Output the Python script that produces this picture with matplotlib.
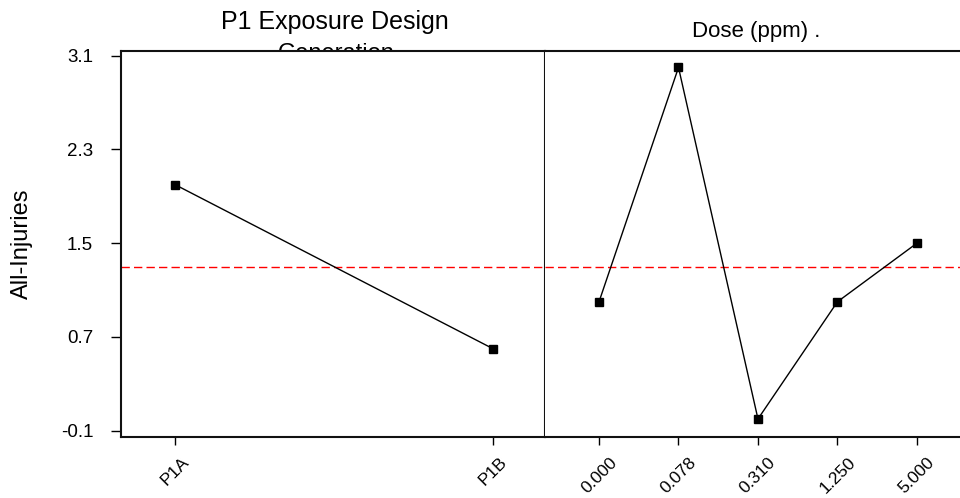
import matplotlib
matplotlib.use('Agg')
import matplotlib.pyplot as plt
from matplotlib.patches import Rectangle

plt.rcParams['font.family'] = ['Liberation Sans', 'DejaVu Sans']

# Main effects means for All-Injuries
design_levels = ['P1A', 'P1B']
design_means = [2.0, 0.6]

dose_levels = ['0.000', '0.078', '0.310', '1.250', '5.000']
dose_means = [1.0, 3.0, 0.0, 1.0, 1.5]

grand_mean = 1.3
y_ticks = [-0.1, 0.7, 1.5, 2.3, 3.1]

fig = plt.figure(figsize=(9.6, 4.98), dpi=100)
ax1 = fig.add_axes([0.126, 0.1225, 0.4417, 0.775])
ax2 = fig.add_axes([0.5677, 0.1225, 0.4437, 0.775], sharey=ax1)

panels = [
    (ax1, design_levels, design_means, (-0.17, 1.164)),
    (ax2, dose_levels, dose_means, (-0.68, 4.68)),
]
for ax, levels, means, xlim in panels:
    x = list(range(len(levels)))
    ax.plot(x, means, color='black', lw=1, marker='s', markersize=5.5,
            markerfacecolor='black', zorder=3)
    ax.axhline(grand_mean, color='#ff0000', lw=1, ls=(0, (6, 3)), zorder=2)
    ax.set_xlim(*xlim)
    ax.set_xticks(x)
    ax.set_xticklabels(levels, rotation=45, ha='center', fontsize=12.5)
    ax.tick_params(axis='x', direction='out', length=5.5, width=1, pad=7)
    for s in ax.spines.values():
        s.set_linewidth(1.5)
        s.set_color('#111111')

ax1.set_ylim(-0.154, 3.14)
ax1.set_yticks(y_ticks)
ax1.set_yticklabels([f'{v:.1f}' for v in y_ticks], fontsize=13.5)
ax1.tick_params(axis='y', direction='out', length=7, width=1, pad=13)
ax1.set_ylabel('All-Injuries', fontsize=17, labelpad=20)

ax2.spines['left'].set_visible(False)
ax2.tick_params(axis='y', left=False, labelleft=False)

# panel headings; the second line of the first one is hidden under the plot frame
fig.text(0.349, 1 - 28.5 / 498, 'P1 Exposure Design', ha='center', va='baseline',
         fontsize=18)
fig.text(0.35, 1 - 60 / 498, 'Generation', ha='center', va='baseline',
         fontsize=17, zorder=-2)
fig.add_artist(Rectangle((0.126, 0.0), 0.4417, 1 - 51 / 498, transform=fig.transFigure,
                         facecolor='white', edgecolor='none', zorder=-1))
fig.text(0.7875, 1 - 37 / 498, 'Dose (ppm) .', ha='center', va='baseline',
         fontsize=16)

fig.savefig('out.png', dpi=100)
